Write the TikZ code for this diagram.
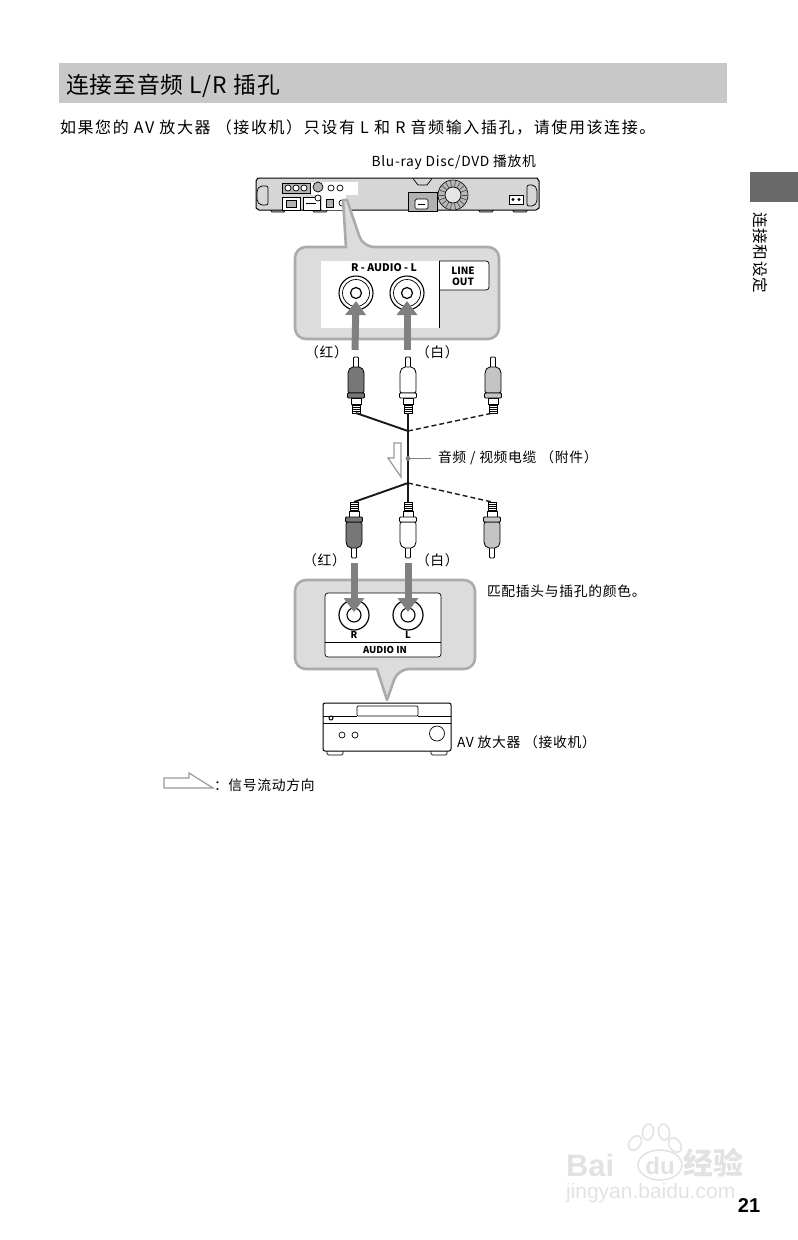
\documentclass[tikz,border=0pt]{standalone}
\usepackage{fontspec}
\setmainfont{Noto Sans CJK SC}
\newfontfamily\headfont[LetterSpace=4]{Noto Sans CJK SC}
\newfontfamily\bodyfont[LetterSpace=10]{Noto Sans CJK SC}
\newfontfamily\labelfont[LetterSpace=5]{Noto Sans CJK SC}
\newfontfamily\pagefont{Liberation Sans}
\usetikzlibrary{arrows.meta}
\definecolor{barfill}{HTML}{C8C8C8}
\definecolor{tabfill}{HTML}{696969}
\definecolor{boxfill}{HTML}{DCDCDC}
\definecolor{boxedge}{HTML}{ABABAB}
\definecolor{flowgray}{HTML}{808080}
\definecolor{plugdark}{HTML}{777777}
\definecolor{pluglight}{HTML}{C4C4C4}
\definecolor{markgray}{HTML}{E2E2E2}
\begin{document}
\begin{tikzpicture}[x=1pt,y=-1pt,
    every node/.style = {inner sep=0pt, outer sep=0pt, align=center},
    caption/.style = {anchor=west, font=\labelfont\fontsize{13.8}{16}\selectfont},
    tiny/.style = {font=\fontsize{9.5}{10}\selectfont\bfseries},
    callout/.style = {draw=boxedge, fill=boxfill, line width=2.6pt, line join=round},
    panel/.style = {draw=black, fill=white, line width=0.7pt},
    flow/.style = {draw=flowgray, line width=7pt, -{Triangle[length=14pt,width=20pt]}},
    cable/.style = {draw=black!90, line width=1.9pt},
    hollow/.style = {draw=gray!80, fill=white, line width=1.2pt},
    thin part/.style = {draw=black, line width=0.7pt},
    pics/rcaplug/.style = {code = {
      \coordinate (-end) at (0,0);
      \draw[black, line width=0.8pt, fill=white, rounded corners=1pt] (-2.5,-45) -- (-2.5,-56) -- (2.5,-56) -- (2.5,-45) -- cycle;
      \draw[black, line width=0.8pt, fill=#1, rounded corners=2pt] (-8,-20) -- (-8,-42) -- (-5,-46) -- (5,-46) -- (8,-42) -- (8,-20) -- cycle;
      \draw[black, line width=0.8pt, fill=white] (-5,-9) rectangle (5,-15);
      \draw[black, line width=0.8pt, fill=#1, rounded corners=1pt] (-8.5,-15) rectangle (8.5,-20);
      \draw[black, line width=0.8pt, fill=white] (-4,0) rectangle (4,-9);
      \foreach \ribpos in {-2,-4,-6,-8} \draw[black, line width=0.9pt] (-4,\ribpos) -- (4,\ribpos);
    }}]
  \useasboundingbox (0,0) rectangle (798,1240);

  % page heading
  \fill[barfill] (59,63) rectangle (727,103);
  \node (title) [anchor=west, font=\headfont\fontsize{22.8}{26}\selectfont] at (66,86) {连接至音频 L/R 插孔};
  \node (intro) [anchor=west, font=\bodyfont\fontsize{16}{18}\selectfont] at (60,128) {如果您的 AV 放大器 （接收机）只设有 L 和 R 音频输入插孔，请使用该连接。};
  \fill[tabfill] (750,172) rectangle (798,202);
  \node (chapter) [rotate=-90, anchor=west, font=\labelfont\fontsize{15.6}{17}\selectfont] at (760,212) {连接和设定};

  % player
  \node (playername) [caption, anchor=east] at (536,162) {Blu-ray Disc/DVD 播放机};
  \foreach \footx in {270,312,478,512} \draw[thin part, fill=gray!60] (\footx,209) -- (\footx+2,212) -- (\footx+14,212) -- (\footx+16,209);
  \draw[draw=black, line width=1pt, fill=gray!32] (258,178) -- (537,178) -- (539,181) -- (539,208) -- (536,210) -- (259,210) -- (256,208) -- (256,181) -- cycle;
  \draw[thin part] (413,178.5) -- (418,185) -- (427,185) -- (432,178.5);
  \draw[thin part, rounded corners=2pt] (268,186) -- (260,186) -- (257,190) -- (257,201) -- (260,205) -- (268,205) -- cycle;
  \draw[thin part, rounded corners=2pt] (527,185) -- (534,185) -- (537,189) -- (537,202) -- (534,206) -- (527,206) -- cycle;
  \draw[thin part, fill=gray!60] (282,183) rectangle (310,193);
  \foreach \jackx in {288,296,304} \draw[thin part, fill=white] (\jackx,188) circle (3);
  \draw[thin part, fill=white] (282,197) rectangle (300,210);
  \draw[thin part, fill=gray!60] (286,200) rectangle (296,207);
  \draw[thin part, fill=white] (303,197) rectangle (320,210);
  \draw[thin part] (306,203) -- (316,203);
  \fill[white] (311,182) rectangle (358,195);
  \fill[white] (322,195) rectangle (346,210);
  \draw[thin part, fill=gray!60] (318,187) circle (5);
  \draw[thin part, fill=white] (318,198) circle (3);
  \draw[thin part, fill=white] (331,188) circle (3);
  \draw[thin part, fill=white] (340,188) circle (3);
  \draw[thin part, fill=gray!60] (326,199) rectangle (333,207);
  \draw[thin part, fill=white] (342,203) circle (3);
  \draw[thin part, fill=gray!60] (408,192) rectangle (437,211);
  \draw[thin part, fill=white, rounded corners=1.5pt] (415,199) rectangle (428,209);
  \draw[thin part] (418,204) -- (425,204);
  \draw[black, line width=0.6pt, fill=gray!55] (453,195) circle (15);
  \draw[thin part, fill=gray!20] (453,195) circle (8);
  \foreach \ang in {0,20,...,340} \draw[black!70, line width=0.7pt] (453,195) ++(\ang:8.5) -- ++(\ang:6);
  \draw[thin part, fill=white] (509,195) rectangle (523,204);
  \fill[black] (513,199.5) circle (1.6) (519,199.5) circle (1.6);

  % top callout
  \draw[callout] (346,247) [rounded corners=11pt] -- (295,247) -- (295,339) -- (499,339) -- (499,247) -- (363,247) [sharp corners] -- (347,200) -- (343,200) -- cycle;
  \fill[white] (321,261) rectangle (439,328);
  \fill[white, rounded corners=3pt] (439,261) rectangle (489,290);
  \draw[panel, fill=none, rounded corners=3pt] (439,261) -- (489,261) -- (489,290) -- (439,290);
  \draw[panel, fill=none] (439,261) -- (439,328);
  \node (audiolabel) [font=\fontsize{10.5}{12}\selectfont\bfseries] at (384,268) {R - AUDIO - L};
  \node (lineout) [font=\fontsize{10}{11.5}\selectfont\bfseries] at (463,276) {LINE\\[-0.5pt]OUT};
  \foreach \jackname/\jackx in {jackoutr/356,jackoutl/407} {
    \draw[panel, line width=1.1pt] (\jackx,293) circle (17);
    \draw[thin part] (\jackx,293) circle (13.5);
    \draw[panel, line width=1.2pt] (\jackx,293) circle (5.5);
    \coordinate (\jackname) at (\jackx,301);
  }

  % cable
  \pic (plugtopr) at (356,413) {rcaplug=plugdark};
  \pic (plugtopw) at (408,413) {rcaplug=white};
  \pic (plugtopx) at (493,413) {rcaplug=pluglight};
  \pic (plugbotr) [yscale=-1] at (354,502) {rcaplug=plugdark};
  \pic (plugbotw) [yscale=-1] at (408,502) {rcaplug=white};
  \pic (plugbotx) [yscale=-1] at (492,502) {rcaplug=pluglight};
  \coordinate (splittop) at (408,431);
  \coordinate (splitbot) at (408,483);
  \coordinate (cabledot) at (408,458.5);
  \coordinate (leaderend) at (431,458.5);
  \draw[cable] (plugtopw-end) -- (plugbotw-end);
  \draw[cable] (plugtopr-end) -- (splittop);
  \draw[cable] (plugbotr-end) -- (splitbot);
  \draw[cable, line width=1.4pt, dash pattern=on 5pt off 3pt] (splittop) -- (plugtopx-end);
  \draw[cable, line width=1.4pt, dash pattern=on 5pt off 3pt] (splitbot) -- (plugbotx-end);
  \draw[hollow] (394,443) -- (401,443) -- (401,477) -- (388,458) -- (394,458) -- cycle;
  \node (cablename) [caption] at (438,458) {音频 / 视频电缆 （附件）};
  \draw[draw=flowgray, line width=1.1pt] (cabledot) -- (leaderend);
  \fill[flowgray] (cabledot) circle (2.4);
  \node (redtop) [caption, anchor=east] at (348,352) {（红）};
  \node (whitetop) [caption] at (416,352) {（白）};
  \node (redbot) [caption, anchor=east] at (346,560) {（红）};
  \node (whitebot) [caption] at (416,560) {（白）};

  % bottom callout
  \draw[callout] (377,669) [rounded corners=11pt] -- (295,669) -- (295,580) -- (475,580) -- (475,669) -- (398,669) [sharp corners] -- (387,700) -- cycle;
  \draw[panel, rounded corners=3pt] (325,593) rectangle (441,657);
  \draw[panel] (325,642) -- (441,642);
  \foreach \jackname/\jackx in {jackinr/354,jackinl/408} {
    \draw[panel, line width=1.2pt] (\jackx,615) circle (15);
    \draw[panel, line width=1.1pt] (\jackx,615) circle (7);
    \coordinate (\jackname) at (\jackx,612);
  }
  \node (jackrname) [tiny] at (354,635) {R};
  \node (jacklname) [tiny] at (408,635) {L};
  \node (audioin) [font=\fontsize{9.5}{12}\selectfont\bfseries] at (385,650) {AUDIO IN};
  \node (matchnote) [caption] at (487,591) {匹配插头与插孔的颜色。};
  \coordinate (feedoutr) at (355,350);
  \coordinate (feedoutl) at (407,350);
  \coordinate (feedinr) at (354,563);
  \coordinate (feedinl) at (408,563);
  \draw[flow] (feedoutr) -- (jackoutr);
  \draw[flow] (feedoutl) -- (jackoutl);
  \draw[flow] (feedinr) -- (jackinr);
  \draw[flow] (feedinl) -- (jackinl);

  % receiver
  \foreach \footx in {327,431} \draw[thin part, rounded corners=1.5pt] (\footx,751) -- (\footx,755) -- (\footx+16,755) -- (\footx+16,751);
  \draw[draw=black, line width=1pt, rounded corners=2pt, fill=white] (323,703) rectangle (451,751);
  \draw[thin part] (323,723) -- (451,723);
  \draw[thin part, rounded corners=1pt] (357,706) rectangle (418,716);
  \draw[thin part] (323,716) -- (357,716) (418,716) -- (451,716);
  \draw[line width=1pt] (331,718) circle (2);
  \draw[thin part] (342,735) circle (3) (355,735) circle (3) (437,733.5) circle (7.5);
  \node (receivername) [caption] at (457,742) {AV 放大器 （接收机）};

  % legend
  \draw[hollow] (164,778) -- (189,778) -- (189,773) -- (213,788) -- (164,788) -- cycle;
  \node (legend) [caption] at (214,785) {：信号流动方向};

  % mark and page number
  \foreach \toex/\toey/\toerot in {635/1143/-35,648/1132/-10,664/1132/10,675/1145/35}
    \draw[markgray, line width=1.5pt, rotate around={\toerot:(\toex,\toey)}] (\toex,\toey) ellipse (5.5 and 8);
  \draw[markgray, line width=1.5pt] (660,1165) ellipse (22 and 15);
  \node (markbai) [anchor=west, text=markgray, font=\pagefont\bfseries\fontsize{31}{33}\selectfont] at (566,1165) {Bai};
  \node (markdu) [text=markgray, font=\pagefont\bfseries\fontsize{24}{26}\selectfont] at (660,1166) {du};
  \node (markjy) [anchor=west, text=markgray, font=\bfseries\fontsize{30}{32}\selectfont] at (683,1163) {经验};
  \node (markurl) [anchor=west, text=markgray, font=\pagefont\fontsize{21}{23}\selectfont] at (566,1193) {jingyan.baidu.com};
  \node (pagenum) [font=\pagefont\bfseries\fontsize{20}{22}\selectfont] at (749,1206) {21};
\end{tikzpicture}
\end{document}
